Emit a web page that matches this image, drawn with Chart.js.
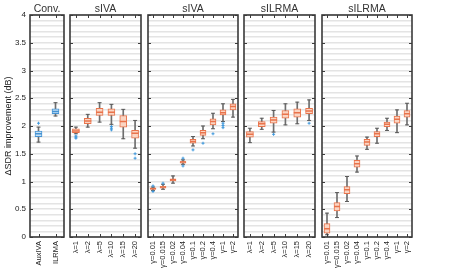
<!DOCTYPE html>
<html><head><meta charset="utf-8">
<script src="https://cdn.jsdelivr.net/npm/chart.js@4.4.1/dist/chart.umd.min.js"></script>
<style>
html,body{margin:0;padding:0;background:#fff;}
#wrap{position:relative;width:471px;height:273px;overflow:hidden;background:#fff;}
#wrap canvas{position:absolute;left:0;top:0;}
</style></head><body><div id="wrap"></div>
<script>
// ---------- data ----------
const yTickLabels = ['0','0.5','1','1.5','2','2.5','3','3.5','4'];
const yAxisTitle = 'ΔSDR improvement (dB)';
const panelTitles = ['Conv.','sIVA','sIVA','sILRMA','sILRMA'];

const convCats = ['AuxIVA','ILRMA'];
const convLo  = [1.71, 2.18];
const convQ1  = [1.81, 2.22];
const convMed = [1.86, 2.26];
const convQ3  = [1.91, 2.31];
const convHi  = [1.98, 2.42];
const convOut = [[2.05], []];

const sivaLamCats = ['λ=1','λ=2','λ=5','λ=10','λ=15','λ=20'];
const sivaLamLo  = [1.86, 1.98, 2.07, 2.03, 1.77, 1.60];
const sivaLamQ1  = [1.88, 2.04, 2.19, 2.19, 1.98, 1.78];
const sivaLamMed = [1.91, 2.09, 2.25, 2.25, 2.08, 1.87];
const sivaLamQ3  = [1.95, 2.14, 2.32, 2.31, 2.19, 1.92];
const sivaLamHi  = [1.98, 2.21, 2.42, 2.39, 2.30, 2.10];
const sivaLamOut = [[1.82, 1.80, 1.78], [], [], [1.99, 1.96, 1.93], [], [1.50, 1.42]];

const gammaCats = ['γ=0.01','γ=0.015','γ=0.02','γ=0.04','γ=0.1','γ=0.2','γ=0.4','γ=1','γ=2'];
const sivaGamLo  = [0.84, 0.86, 0.97, 1.31, 1.64, 1.77, 1.95, 2.08, 2.16];
const sivaGamQ1  = [0.86, 0.88, 1.01, 1.33, 1.69, 1.83, 2.02, 2.20, 2.29];
const sivaGamMed = [0.87, 0.90, 1.03, 1.35, 1.72, 1.88, 2.08, 2.24, 2.35];
const sivaGamQ3  = [0.885, 0.915, 1.05, 1.36, 1.76, 1.92, 2.13, 2.29, 2.40];
const sivaGamHi  = [0.90, 0.95, 1.10, 1.39, 1.81, 2.00, 2.23, 2.40, 2.48];
const sivaGamOut = [[0.92, 0.82], [0.97], [], [1.42, 1.28], [1.57], [1.69], [1.86], [2.05, 2.01, 1.97], []];

const silrmaLamCats = ['λ=1','λ=2','λ=5','λ=10','λ=15','λ=20'];
const silrmaLamLo  = [1.70, 1.94, 1.89, 2.02, 2.04, 2.10];
const silrmaLamQ1  = [1.80, 1.99, 2.05, 2.14, 2.16, 2.22];
const silrmaLamMed = [1.85, 2.04, 2.11, 2.21, 2.24, 2.27];
const silrmaLamQ3  = [1.90, 2.08, 2.16, 2.28, 2.31, 2.32];
const silrmaLamHi  = [1.96, 2.14, 2.28, 2.40, 2.43, 2.47];
const silrmaLamOut = [[], [], [1.85], [], [], [2.05]];

const silrmaGamLo  = [0.04, 0.35, 0.64, 1.17, 1.58, 1.69, 1.92, 1.88, 2.02];
const silrmaGamQ1  = [0.07, 0.47, 0.78, 1.26, 1.65, 1.81, 1.99, 2.05, 2.16];
const silrmaGamMed = [0.15, 0.55, 0.85, 1.32, 1.71, 1.86, 2.03, 2.12, 2.22];
const silrmaGamQ3  = [0.24, 0.62, 0.91, 1.38, 1.76, 1.90, 2.07, 2.18, 2.28];
const silrmaGamHi  = [0.43, 0.80, 1.09, 1.46, 1.80, 1.96, 2.14, 2.29, 2.41];
const silrmaGamOut = [[], [], [], [], [], [], [], [], []];

// ---------- styling ----------
const W = 471, H = 273;
const areaLeft  = [30, 70, 148, 244, 322];
const areaRight = [64, 141, 238, 315, 412];
const boxWidths = [7, 7, 6, 7, 6];
const BLUE = {edge:'#4693d3', fill:'#c6e1f5'};
const ORANGE = {edge:'#e9734b', fill:'#fad5c3'};
const FONT = 'Liberation Sans, Arial, Helvetica, sans-serif';

const panels = [
  {cats:convCats, lo:convLo, q1:convQ1, med:convMed, q3:convQ3, hi:convHi, out:convOut, col:BLUE},
  {cats:sivaLamCats, lo:sivaLamLo, q1:sivaLamQ1, med:sivaLamMed, q3:sivaLamQ3, hi:sivaLamHi, out:sivaLamOut, col:ORANGE},
  {cats:gammaCats, lo:sivaGamLo, q1:sivaGamQ1, med:sivaGamMed, q3:sivaGamQ3, hi:sivaGamHi, out:sivaGamOut, col:ORANGE},
  {cats:silrmaLamCats, lo:silrmaLamLo, q1:silrmaLamQ1, med:silrmaLamMed, q3:silrmaLamQ3, hi:silrmaLamHi, out:silrmaLamOut, col:ORANGE},
  {cats:gammaCats, lo:silrmaGamLo, q1:silrmaGamQ1, med:silrmaGamMed, q3:silrmaGamQ3, hi:silrmaGamHi, out:silrmaGamOut, col:ORANGE}
];

const framePlugin = {
  id: 'frame',
  afterDatasetsDraw(chart) {
    const {ctx, chartArea: a, scales: {x, y}} = chart;
    ctx.save();
    ctx.strokeStyle = '#3c3c3c';
    ctx.lineWidth = 1;
    const tl = 3;
    ctx.beginPath();
    yTickLabels.forEach(t => {
      const py = Math.round(y.getPixelForValue(parseFloat(t))) + 0.5;
      ctx.moveTo(a.left, py); ctx.lineTo(a.left + tl, py);
      ctx.moveTo(a.right, py); ctx.lineTo(a.right - tl, py);
    });
    x.ticks.forEach((t, i) => {
      const px = Math.round(x.getPixelForTick(i)) + 0.5;
      ctx.moveTo(px, a.top); ctx.lineTo(px, a.top + tl);
      ctx.moveTo(px, a.bottom); ctx.lineTo(px, a.bottom - tl);
    });
    ctx.stroke();
    ctx.lineWidth = 1.6;
    ctx.strokeStyle = '#3a3a3a';
    ctx.strokeRect(a.left, a.top, a.right - a.left, a.bottom - a.top);
    ctx.restore();
  }
};

function yTickCallback(v) {
  const s = String(Math.round(v * 10) / 10);
  return yTickLabels.includes(s) ? s : '';
}

const wrap = document.getElementById('wrap');
panels.forEach((p, k) => {
  const cv = document.createElement('canvas');
  cv.width = W; cv.height = H;
  cv.style.width = W + 'px'; cv.style.height = H + 'px';
  wrap.appendChild(cv);
  const bw = boxWidths[k];
  const capData = [], medData = [], outData = [];
  p.cats.forEach((c, i) => {
    capData.push({x: c, y: p.lo[i]}, {x: c, y: p.hi[i]});
    medData.push({x: c, y: p.med[i]});
    p.out[i].forEach(v => outData.push({x: c, y: v}));
  });
  new Chart(cv, {
    type: 'bar',
    data: {
      labels: p.cats,
      datasets: [
        {type:'bar', data: p.cats.map((c, i) => [p.lo[i], p.hi[i]]), backgroundColor:'#6e6e6e',
         borderWidth:0, barThickness:1, grouped:false, order:5},
        {type:'bar', data: p.cats.map((c, i) => [p.q1[i], p.q3[i]]), backgroundColor:p.col.fill,
         borderColor:p.col.edge, borderWidth:1, borderSkipped:false, barThickness:bw, grouped:false, order:4},
        {type:'line', data: capData, showLine:false, pointStyle:'line', pointRadius:2,
         pointBorderColor:'#5a5a5a', pointBorderWidth:1, order:3},
        {type:'line', data: medData, showLine:false, pointStyle:'line', pointRadius:bw/2,
         pointBorderColor:p.col.edge, pointBorderWidth:1.5, order:2},
        {type:'line', data: outData, showLine:false, pointStyle:'cross', pointRadius:1.5,
         pointBorderColor:'#3f98dc', pointBorderWidth:1, order:1}
      ]
    },
    options: {
      responsive:false, animation:false, events:[],
      layout:{padding:{left: k === 0 ? 0 : areaLeft[k], right: W - areaRight[k], top:0, bottom:0}},
      plugins:{
        legend:{display:false}, tooltip:{enabled:false},
        title:{display:true, text:panelTitles[k], fullSize:false, color:'#333',
               font:{family:FONT, size:10.5, weight:'normal', lineHeight:1}, padding:{top:3.5, bottom:1}}
      },
      scales:{
        x:{
          type:'category', offset:true,
          grid:{display:false, drawTicks:false}, border:{display:false},
          ticks:{maxRotation:90, minRotation:90, autoSkip:false, padding:4, color:'#222',
                 font:{family:FONT, size:7.5}},
          afterFit(s){ s.height = H - 237; }
        },
        y:{
          min:0, max:4,
          grid:{color:'#e4e4e4', lineWidth:1.6, drawTicks:false}, border:{display:false},
          ticks:{display:k === 0, stepSize:0.1, autoSkip:false, padding:4, color:'#222',
                 font:{family:FONT, size:8}, callback:yTickCallback},
          title:{display:k === 0, text:yAxisTitle, color:'#222', font:{family:FONT, size:9}, padding:{top:3, bottom:0}},
          afterFit(s){ s.width = k === 0 ? areaLeft[0] : 0; }
        }
      }
    },
    plugins:[framePlugin]
  });
});
</script>
</body></html>
